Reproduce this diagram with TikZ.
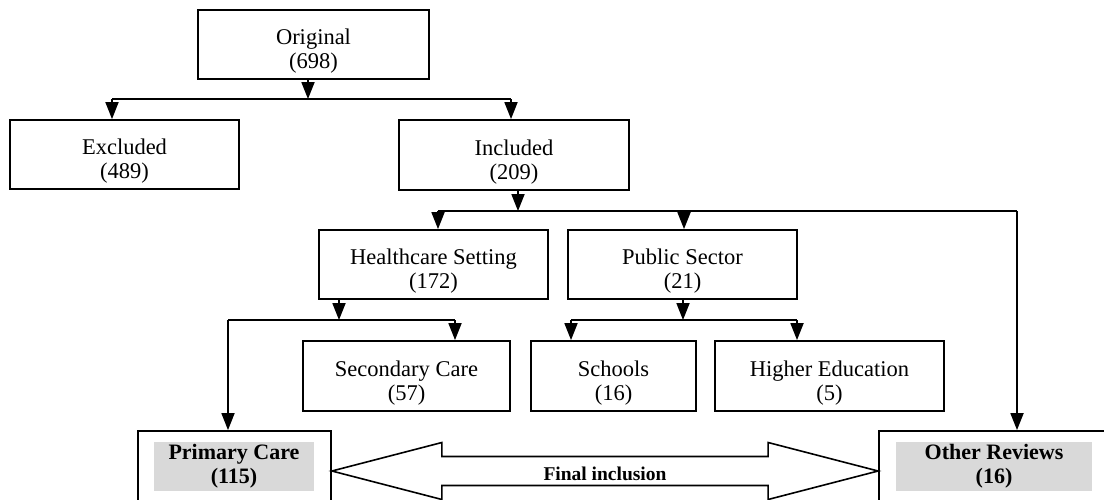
\documentclass[tikz,border=0pt]{standalone}
\usepackage{fontspec}
\setmainfont{Liberation Serif}
\usetikzlibrary{arrows.meta,calc}
\definecolor{hl}{HTML}{D9D9D9}
\newcommand\toppad{\rule{0pt}{29pt}}
\tikzset{
  box/.style={draw, line width=1.8pt, minimum height=69pt, inner sep=0pt, align=center,
    font=\fontsize{22.5}{24}\selectfont},
  frame/.style={draw, line width=1.8pt, inner sep=0pt, minimum height=80pt},
  hlbox/.style={fill=hl, inner sep=0pt, minimum width=#1, minimum height=49pt, align=center,
    font=\bfseries\fontsize{22}{24}\selectfont},
  conn/.style={line width=1.8pt},
  arr/.style={line width=1.8pt, -{Triangle[length=17pt,width=13pt]}},
  bigarrow/.style={draw, line width=1.6pt, fill=white, line join=miter},
  lbl/.style={font=\bfseries\fontsize{19.5}{20}\selectfont, inner sep=0pt}
}
\begin{document}
\begin{tikzpicture}[x=1pt,y=-1pt]
\useasboundingbox[fill=white] (0,0) rectangle (1104,499);
\clip (0,0) rectangle (1104,499);
% boxes
\node[box, minimum width=231pt] (orig) at (313.5,44.5) {\toppad Original\\(698)};
\node[box, minimum width=229pt] (excl) at (124.5,154.5) {\toppad Excluded\\(489)};
\node[box, minimum width=230pt, minimum height=70pt] (incl) at (514,155) {\toppad Included\\(209)};
\node[box, minimum width=229pt] (hc) at (433.5,264.5) {\toppad Healthcare Setting\\(172)};
\node[box, minimum width=229pt] (ps) at (682.5,264.5) {\toppad Public Sector\\(21)};
\node[box, minimum width=207pt, minimum height=70pt] (sec) at (406.5,376) {\toppad Secondary Care\\(57)};
\node[box, minimum width=165pt, minimum height=70pt] (sch) at (613.5,376) {\toppad Schools\\(16)};
\node[box, minimum width=229pt, minimum height=70pt] (he) at (829.5,376) {\toppad Higher Education\\(5)};
\node[frame, minimum width=193pt] (pc) at (234.5,471) {};
\node[frame, minimum width=230pt] (or) at (994,471) {};
\node[hlbox=160pt] (pct) at (234,466.5) {Primary Care\\(115)};
\node[hlbox=196pt] (ort) at (994,466.5) {Other Reviews\\(16)};
% bar coordinates
\coordinate (b1) at (308,99);
\coordinate (b1l) at (112,99);
\coordinate (b1r) at (511,99);
\coordinate (b2) at (518,211);
\coordinate (b2l) at (438,211);
\coordinate (b2m) at (684,211);
\coordinate (b2r) at (1017,211);
\coordinate (b3) at (339,320);
\coordinate (b3l) at (228,320);
\coordinate (b3r) at (455,320);
\coordinate (b4) at (683,320);
\coordinate (b4l) at (571,320);
\coordinate (b4r) at (797,320);
% level 1
\draw[arr] (orig.south -| b1) -- (b1);
\draw[conn] (b1l) -- (b1r);
\draw[arr] (b1l) -- (b1l |- excl.north);
\draw[arr] (b1r) -- (b1r |- incl.north);
% level 2
\draw[arr] (incl.south -| b2) -- (b2);
\draw[conn] (b2l) -- (b2r);
\draw[arr] (b2l) -- (b2l |- hc.north);
\draw[arr] (b2m) -- (b2m |- ps.north);
\draw[arr] (b2r) -- (b2r |- or.north);
% level 3 healthcare
\draw[arr] (hc.south -| b3) -- (b3);
\draw[conn] (b3l) -- (b3r);
\draw[arr] (b3l) -- (b3l |- pc.north);
\draw[arr] (b3r) -- (b3r |- sec.north);
% level 3 public sector
\draw[arr] (ps.south -| b4) -- (b4);
\draw[conn] (b4l) -- (b4r);
\draw[arr] (b4l) -- (b4l |- sch.north);
\draw[arr] (b4r) -- (b4r |- he.north);
% double arrow
\draw[bigarrow] (pc.east)
  -- ($(pc.east)+(110,-28.5)$) -- ($(pc.east)+(110,-14.5)$)
  -- ($(or.west)+(-110,-14.5)$) -- ($(or.west)+(-110,-28.5)$)
  -- (or.west)
  -- ($(or.west)+(-110,28.5)$) -- ($(or.west)+(-110,14.5)$)
  -- ($(pc.east)+(110,14.5)$) -- ($(pc.east)+(110,28.5)$) -- cycle;
\node[lbl] (fi) at ($(pc.east)!0.5!(or.west)+(0,3)$) {Final inclusion};
\end{tikzpicture}
\end{document}
